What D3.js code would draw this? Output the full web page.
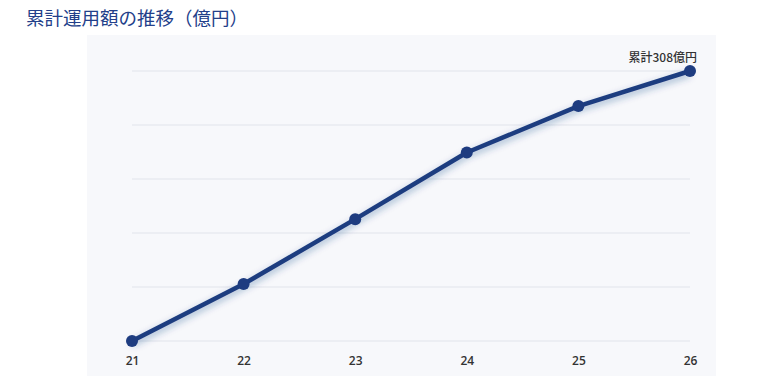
<!DOCTYPE html>
<html>
<head>
  <meta charset="utf-8">
  <script src="https://cdn.jsdelivr.net/npm/d3@7"></script>
  <style>
    body { margin: 0; background: #fff; font-family: "Noto Sans CJK JP", "Noto Sans", sans-serif; }
  </style>
</head>
<body>
<script>
  // データ
  const years = ["21", "22", "23", "24", "25", "26"];
  const totals = [0, 65, 139, 215, 268, 308];
  const endLabel = "累計308億円";
  const title = "累計運用額の推移（億円）";

  const w = 766, h = 380;
  const svg = d3.select("body").append("svg").attr("width", w).attr("height", h);

  // パネル背景
  svg.append("rect").attr("x", 87).attr("y", 35).attr("width", 629).attr("height", 341).attr("fill", "#f7f8fb");

  svg.append("text").attr("x", 26).attr("y", 25)
    .attr("font-size", 18.5).attr("fill", "#23408a")
    .text(title);

  const x = d3.scalePoint().domain(years).range([132, 690]);
  const y = d3.scaleLinear().domain([0, 308]).range([341, 71]);

  // グリッド線
  svg.selectAll("line.grid").data(d3.range(6).map(i => i * 308 / 5)).enter()
    .append("line").attr("class", "grid")
    .attr("x1", 132).attr("x2", 690)
    .attr("y1", d => y(d)).attr("y2", d => y(d))
    .attr("stroke", "#e8ebf1").attr("stroke-width", 1.5);

  // x軸ラベル
  const ax = svg.append("g").attr("transform", "translate(0,352)")
    .call(d3.axisBottom(x).tickSize(0).tickPadding(4));
  ax.select(".domain").remove();
  ax.selectAll("text").attr("font-size", 12).attr("font-weight", 600)
    .attr("fill", "#333").attr("font-family", "'Open Sans', sans-serif");

  // 影
  const defs = svg.append("defs");
  const f = defs.append("filter").attr("id", "sh").attr("x", "-10%").attr("y", "-20%").attr("width", "120%").attr("height", "150%");
  f.append("feDropShadow").attr("dx", 0).attr("dy", 3).attr("stdDeviation", 3.5)
    .attr("flood-color", "#1e3c80").attr("flood-opacity", 0.4);

  const line = d3.line().x((d, i) => x(years[i])).y(d => y(d));
  svg.append("path").datum(totals).attr("d", line)
    .attr("fill", "none").attr("stroke", "#1e3c80").attr("stroke-width", 4.5)
    .attr("stroke-linejoin", "round").attr("filter", "url(#sh)");

  svg.selectAll("circle").data(totals).enter().append("circle")
    .attr("cx", (d, i) => x(years[i])).attr("cy", d => y(d)).attr("r", 6)
    .attr("fill", "#1e3c80");

  svg.append("text").attr("x", x("26") + 7).attr("y", y(308) - 9)
    .attr("text-anchor", "end").attr("font-size", 12).attr("font-weight", 500)
    .attr("fill", "#333").text(endLabel);
</script>
</body>
</html>
